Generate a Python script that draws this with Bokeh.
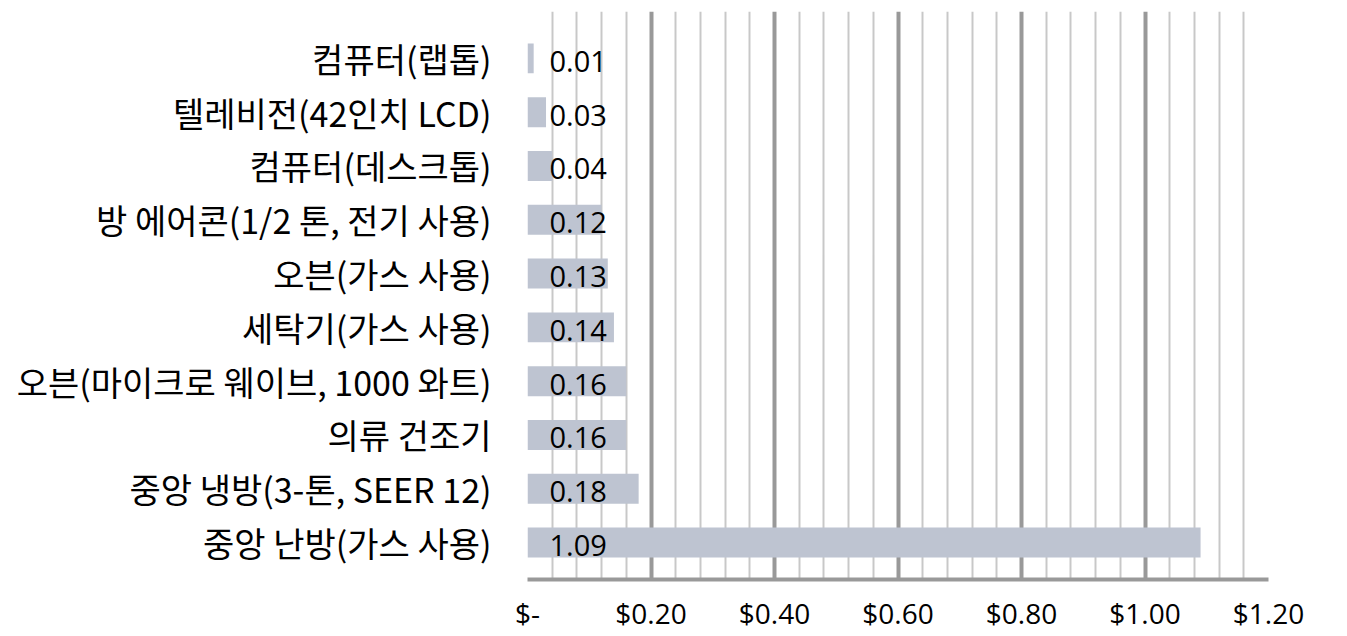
from bokeh.plotting import figure
from bokeh.models import Range1d, FixedTicker, CustomJSTickFormatter, ColumnDataSource
from bokeh.core.properties import value
from bokeh.embed import file_html
from bokeh.resources import INLINE

categories = [
    "컴퓨터(랩톱)",
    "텔레비전(42인치 LCD)",
    "컴퓨터(데스크톱)",
    "방 에어콘(1/2 톤, 전기 사용)",
    "오븐(가스 사용)",
    "세탁기(가스 사용)",
    "오븐(마이크로 웨이브, 1000 와트)",
    "의류 건조기",
    "중앙 냉방(3-톤, SEER 12)",
    "중앙 난방(가스 사용)",
]
values = [0.01, 0.03, 0.04, 0.12, 0.13, 0.14, 0.16, 0.16, 0.18, 1.09]
value_labels = ["0.01", "0.03", "0.04", "0.12", "0.13", "0.14", "0.16", "0.16", "0.18", "1.09"]

major_ticks = [0.0, 0.2, 0.4, 0.6, 0.8, 1.0, 1.2]
minor_ticks = [0.04, 0.08, 0.12, 0.16, 0.24, 0.28, 0.32, 0.36, 0.44, 0.48, 0.52, 0.56,
               0.64, 0.68, 0.72, 0.76, 0.84, 0.88, 0.92, 0.96, 1.04, 1.08, 1.12, 1.16]

n = len(categories)
ypos = [n - 1 - i for i in range(n)]

src = ColumnDataSource(dict(y=ypos, v=values, lab=value_labels, zero=[0] * n))

p = figure(width=1347, height=636, output_backend="svg", toolbar_location=None,
           x_range=Range1d(0, 1.2), y_range=Range1d(-0.686, 9.871),
           min_border_left=527, min_border_right=79, min_border_top=11, min_border_bottom=57)
p.frame_width = 741
p.frame_height = 568
p.outline_line_color = None
p.background_fill_color = "white"
p.border_fill_color = "white"

p.hbar(y="y", left=0, right="v", height=0.557, source=src, fill_color="#BEC4D1", line_color=None)
p.text(x="zero", y="y", text="lab", source=src, x_offset=22, y_offset=3,
       text_baseline="middle", text_align="left", text_font=value("Open Sans"),
       text_font_size="29px", text_color="#000000")

ticker = FixedTicker(ticks=major_ticks, minor_ticks=minor_ticks)
p.xaxis.ticker = ticker
p.xaxis.formatter = CustomJSTickFormatter(code="""
if (Math.abs(tick) < 1e-9) { return "$-"; }
return "$" + tick.toFixed(2);
""")
p.xaxis.axis_line_color = "#999999"
p.xaxis.axis_line_width = 4
p.xaxis.major_tick_line_color = None
p.xaxis.minor_tick_line_color = None
p.xaxis.major_label_text_font = "Open Sans"
p.xaxis.major_label_text_font_size = "28px"
p.xaxis.major_label_text_color = "#000000"
p.xaxis.major_label_standoff = 8

p.xgrid.ticker = ticker
p.xgrid.grid_line_color = "#999999"
p.xgrid.grid_line_width = 4
p.xgrid.minor_grid_line_color = "#C8C8C8"
p.xgrid.minor_grid_line_width = 2
p.ygrid.grid_line_color = None

p.yaxis.ticker = FixedTicker(ticks=ypos)
p.yaxis.major_label_overrides = {y: c for y, c in zip(ypos, categories)}
p.yaxis.axis_line_color = None
p.yaxis.major_tick_line_color = None
p.yaxis.minor_tick_line_color = None
p.yaxis.major_label_text_font = "Noto Sans CJK KR"
p.yaxis.major_label_text_font_size = "34px"
p.yaxis.major_label_text_color = "#000000"
p.yaxis.major_label_standoff = 30

open("out.html", "w").write(file_html(p, INLINE))
